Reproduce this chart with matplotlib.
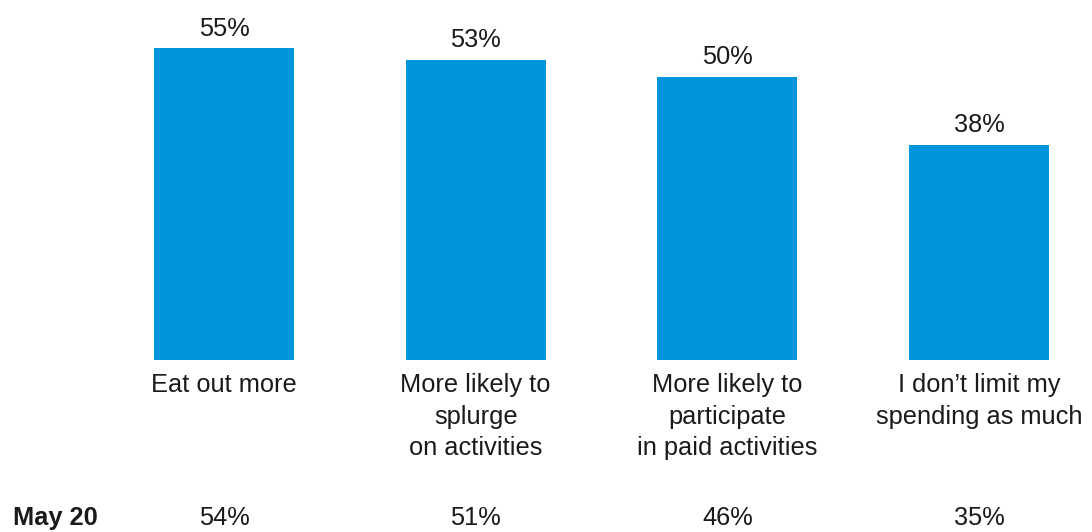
import matplotlib
matplotlib.use("Agg")
from matplotlib import pyplot as plt
from matplotlib import transforms

plt.rcParams["font.family"] = ["Liberation Sans", "DejaVu Sans"]

categories = ["Eat out more",
              "More likely to\nsplurge\non activities",
              "More likely to\nparticipate\nin paid activities",
              "I don\u2019t limit my\nspending as much"]
current_pct = [55, 53, 50, 38]
may20_pct = [54, 51, 46, 35]
may20_label = "May 20"

BAR_COLOR = "#0096DC"
TEXT_COLOR = "#1a1a1a"
FS = 18.3

fig = plt.figure(figsize=(10.92, 5.32), dpi=100)
ax = fig.add_axes([0, 172 / 532, 1, 340 / 532])

x = list(range(len(categories)))
ax.bar(x, current_pct, width=0.556, color=BAR_COLOR)
ax.set_xlim(-0.890, 3.449)
ax.set_ylim(0, 60)
ax.axis("off")

for xi, v in zip(x, current_pct):
    ax.text(xi, v + 1.3, f"{v}%", ha="center", va="bottom",
            fontsize=FS, color=TEXT_COLOR)

# category names and the comparison row live below the plot area
trans = transforms.blended_transform_factory(ax.transData, fig.transFigure)
for xi, name in zip(x, categories):
    ax.text(xi, 1 - 373 / 532, name, ha="center", va="top", fontsize=FS,
            color=TEXT_COLOR, transform=trans, linespacing=1.4)

for xi, v in zip(x, may20_pct):
    ax.text(xi, 1 - 518 / 532, f"{v}%", ha="center", va="center",
            fontsize=FS, color=TEXT_COLOR, transform=trans)

fig.text(13 / 1092, 1 - 518 / 532, may20_label, ha="left", va="center",
         fontsize=FS, fontweight="bold", color=TEXT_COLOR)

fig.savefig("out.png", dpi=100)
